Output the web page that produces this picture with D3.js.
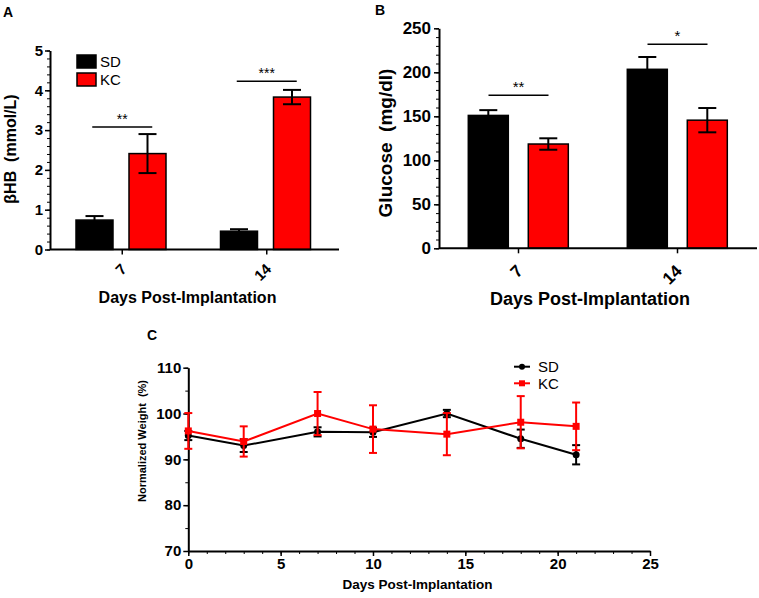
<!DOCTYPE html>
<html>
<head>
<meta charset="utf-8">
<script src="https://cdn.jsdelivr.net/npm/d3@7"></script>
<style>
  html, body { margin: 0; padding: 0; background: #fff; }
  svg { display: block; font-family: "Liberation Sans", Arial, sans-serif; }
</style>
</head>
<body>
<svg id="chart" width="759" height="598"></svg>
<script>
// ---------- DATA ----------
const groups = ["7", "14"];
const seriesNames = ["SD", "KC"];
const seriesColors = ["#000000", "#ff0000"];

// Panel A: βHB (mmol/L)
const bhbSD = [0.74, 0.46];
const bhbSDErr = [0.10, 0.05];
const bhbKC = [2.41, 3.83];
const bhbKCErr = [0.49, 0.18];
const bhbSig = ["**", "***"];
const bhbSigLevel = [3.08, 4.23];
const bhbTicks = [0, 1, 2, 3, 4, 5];

// Panel B: Glucose (mg/dl)
const gluSD = [151, 203.4];
const gluSDErr = [6, 14];
const gluKC = [118.5, 145.6];
const gluKCErr = [6.5, 13.8];
const gluSig = ["**", "*"];
const gluSigLevel = [174, 232];
const gluTicks = [0, 50, 100, 150, 200, 250];

// Panel C: Normalized weight (%)
const days = [0, 3, 7, 10, 14, 18, 21];
const weightSD = [95.2, 93.0, 96.0, 95.9, 100.0, 94.5, 91.0];
const weightSDErr = [1.0, 1.4, 1.0, 1.0, 0.8, 2.0, 2.1];
const weightKC = [96.2, 93.9, 100.0, 96.6, 95.5, 98.1, 97.2];
const weightKCErr = [3.9, 3.3, 4.7, 5.2, 4.6, 5.7, 5.2];
const dayTicks = [0, 5, 10, 15, 20, 25];
const weightTicks = [70, 80, 90, 100, 110];

const svg = d3.select("#chart");

function styleAxis(g, fontSize, sw) {
  g.selectAll("path.domain").attr("stroke", "#000").attr("stroke-width", sw);
  g.selectAll(".tick line").attr("stroke", "#000").attr("stroke-width", 1.5);
  g.selectAll(".tick text").attr("fill", "#000").attr("font-size", fontSize)
    .attr("font-weight", "bold").attr("font-family", "Liberation Sans, Arial, sans-serif");
}

// ---------- BAR PANEL ----------
function barPanel(opt) {
  const g = svg.append("g");
  const y = d3.scaleLinear().domain(opt.yDomain).range([opt.y0, opt.y1]);
  const x = d3.scaleBand().domain(groups).range([opt.xL, opt.xR]).paddingInner(0).paddingOuter(0);
  const xi = d3.scaleBand().domain(seriesNames).range(opt.innerRange).paddingInner(opt.innerPad);
  const means = [opt.sd, opt.kc];
  const errs = [opt.sdErr, opt.kcErr];

  // minor ticks
  g.append("g").attr("transform", `translate(${opt.xL},0)`)
    .call(d3.axisLeft(y).tickValues(d3.range(opt.yDomain[0], opt.yDomain[1] + 1e-9, opt.minorStep)).tickSize(3).tickFormat("").tickSizeOuter(0))
    .call(a => { a.select("path.domain").remove(); a.selectAll(".tick line").attr("stroke", "#000").attr("stroke-width", 1); });
  // major y axis
  const ya = g.append("g").attr("transform", `translate(${opt.xL},0)`)
    .call(d3.axisLeft(y).tickValues(opt.ticks).tickSize(5).tickPadding(opt.tickPad).tickSizeOuter(0).tickFormat(d3.format("d")));
  styleAxis(ya, opt.tickFont, 2);

  // bars
  seriesNames.forEach((s, si) => {
    g.append("g").selectAll("rect").data(groups).join("rect")
      .attr("x", d => x(d) + xi(s))
      .attr("width", xi.bandwidth())
      .attr("y", (d, i) => y(means[si][i]))
      .attr("height", (d, i) => y(0) - y(means[si][i]))
      .attr("fill", seriesColors[si])
      .attr("stroke", "#000").attr("stroke-width", 1.5);
  });
  // error bars (black)
  seriesNames.forEach((s, si) => {
    groups.forEach((gname, i) => {
      const cx = x(gname) + xi(s) + xi.bandwidth() / 2;
      const hi = y(means[si][i] + errs[si][i]);
      const lo = y(means[si][i] - errs[si][i]);
      const eg = g.append("g").attr("stroke", "#000").attr("stroke-width", 2);
      eg.append("line").attr("x1", cx).attr("x2", cx).attr("y1", hi).attr("y2", lo);
      eg.append("line").attr("x1", cx - 9).attr("x2", cx + 9).attr("y1", hi).attr("y2", hi);
      eg.append("line").attr("x1", cx - 9).attr("x2", cx + 9).attr("y1", lo).attr("y2", lo);
    });
  });

  // x axis
  const xa = g.append("g").attr("transform", `translate(0,${opt.y0})`)
    .call(d3.axisBottom(x).tickSize(5).tickSizeOuter(0).tickFormat(""));
  styleAxis(xa, opt.tickFont, 2);
  xa.select("path.domain").attr("d", `M${opt.xL},0H${opt.xR}`);
  xa.selectAll(".tick").append("text")
    .attr("text-anchor", "end")
    .attr("transform", `translate(5.5,${opt.xLabY - opt.y0}) rotate(-45)`)
    .attr("font-size", opt.tickFont).attr("font-weight", "bold").attr("fill", "#000")
    .text(d => d);

  // significance
  groups.forEach((gname, i) => {
    const cx = x(gname) + x.bandwidth() / 2;
    const ly = y(opt.sigLevel[i]);
    g.append("line").attr("x1", cx - 30).attr("x2", cx + 30).attr("y1", ly).attr("y2", ly)
      .attr("stroke", "#000").attr("stroke-width", 1.5);
    g.append("text").attr("x", cx).attr("y", ly - 3).attr("text-anchor", "middle")
      .attr("font-size", opt.starFont).attr("fill", "#000").text(opt.sig[i]);
  });

  // titles
  g.append("text").attr("x", (opt.xL + opt.xR) / 2 + opt.xTitleDx).attr("y", opt.xTitleY)
    .attr("text-anchor", "middle").attr("font-size", opt.titleFont).attr("font-weight", "bold")
    .text("Days Post-Implantation");
  g.append("text").attr("transform", `translate(${opt.yTitleX},${opt.yTitleCY}) rotate(-90)`)
    .attr("text-anchor", "middle").attr("font-size", opt.yTitleFont).attr("font-weight", "bold")
    .attr("xml:space", "preserve").style("white-space", "pre")
    .text(opt.yTitle);
  g.append("text").attr("x", opt.letterX).attr("y", opt.letterY)
    .attr("font-size", 14).attr("font-weight", "bold").attr("font-family", "Liberation Sans, Arial, sans-serif")
    .text(opt.letter);
  return { g, x, xi, y };
}

const A = barPanel({
  letter: "A", letterX: 3, letterY: 17,
  yDomain: [0, 5], y0: 249.5, y1: 50.5, xL: 50, xR: 339,
  innerRange: [26, 116], innerPad: 0.302,
  sd: bhbSD, sdErr: bhbSDErr, kc: bhbKC, kcErr: bhbKCErr,
  ticks: bhbTicks, minorStep: 0.2, tickFont: 15, tickPad: 2,
  sig: bhbSig, sigLevel: bhbSigLevel, starFont: 14,
  xLabY: 270, titleFont: 16, xTitleY: 303, xTitleDx: -7,
  yTitle: "\u03B2HB  (mmol/L)", yTitleX: 16, yTitleCY: 149, yTitleFont: 16
});

// Legend A
seriesNames.forEach((s, i) => {
  const lg = A.g.append("g").attr("transform", `translate(77,${55 + i * 18})`);
  lg.append("rect").attr("width", 19).attr("height", 13).attr("fill", seriesColors[i])
    .attr("stroke", "#000").attr("stroke-width", 1.5);
  lg.append("text").attr("x", 23).attr("y", 12).attr("font-size", 15).attr("fill", "#000").text(s);
});

const B = barPanel({
  letter: "B", letterX: 375, letterY: 15,
  yDomain: [0, 250], y0: 248.3, y1: 28.3, xL: 439, xR: 757,
  innerRange: [29.3, 129.3], innerPad: 0.333,
  sd: gluSD, sdErr: gluSDErr, kc: gluKC, kcErr: gluKCErr,
  ticks: gluTicks, minorStep: 10, tickFont: 17, tickPad: 3,
  sig: gluSig, sigLevel: gluSigLevel, starFont: 15,
  xLabY: 272, titleFont: 18, xTitleY: 305, xTitleDx: -8,
  yTitle: "Glucose  (mg/dl)", yTitleX: 392, yTitleCY: 143, yTitleFont: 19
});

// ---------- PANEL C ----------
const C = svg.append("g");
const xC = d3.scaleLinear().domain([0, 25]).range([188.3, 650]);
const yC = d3.scaleLinear().domain([70, 110]).range([551, 367.7]);

// minor ticks
C.append("g").attr("transform", "translate(0,551)")
  .call(d3.axisBottom(xC).tickValues(d3.range(0, 26, 1)).tickSize(3).tickFormat("").tickSizeOuter(0))
  .call(a => { a.select("path.domain").remove(); a.selectAll(".tick line").attr("stroke", "#000").attr("stroke-width", 1); });
C.append("g").attr("transform", "translate(188.3,0)")
  .call(d3.axisLeft(yC).tickValues(d3.range(70, 111, 5)).tickSize(3).tickFormat("").tickSizeOuter(0))
  .call(a => { a.select("path.domain").remove(); a.selectAll(".tick line").attr("stroke", "#000").attr("stroke-width", 1); });

const xaC = C.append("g").attr("transform", "translate(0,551)")
  .call(d3.axisBottom(xC).tickValues(dayTicks).tickSize(5).tickPadding(2).tickSizeOuter(0));
styleAxis(xaC, 15, 2);
const yaC = C.append("g").attr("transform", "translate(188.3,0)")
  .call(d3.axisLeft(yC).tickValues(weightTicks).tickSize(5).tickPadding(2).tickSizeOuter(0));
styleAxis(yaC, 15, 2);

const weightSeries = [
  { name: "SD", vals: weightSD, errs: weightSDErr, color: "#000000", marker: "circle" },
  { name: "KC", vals: weightKC, errs: weightKCErr, color: "#ff0000", marker: "square" }
];
const lineGen = d3.line().x(d => xC(d[0])).y(d => yC(d[1]));

weightSeries.forEach(s => {
  const sg = C.append("g");
  const pts = days.map((d, i) => [d, s.vals[i], s.errs[i]]);
  // error bars
  pts.forEach(p => {
    const cx = xC(p[0]), hi = yC(p[1] + p[2]), lo = yC(p[1] - p[2]);
    const eg = sg.append("g").attr("stroke", s.color).attr("stroke-width", 2);
    eg.append("line").attr("x1", cx).attr("x2", cx).attr("y1", hi).attr("y2", lo);
    eg.append("line").attr("x1", cx - 4).attr("x2", cx + 4).attr("y1", hi).attr("y2", hi);
    eg.append("line").attr("x1", cx - 4).attr("x2", cx + 4).attr("y1", lo).attr("y2", lo);
  });
  sg.append("path").datum(pts).attr("d", lineGen).attr("fill", "none")
    .attr("stroke", s.color).attr("stroke-width", 2);
  if (s.marker === "circle") {
    sg.selectAll("circle").data(pts).join("circle")
      .attr("cx", p => xC(p[0])).attr("cy", p => yC(p[1])).attr("r", 3.5).attr("fill", s.color);
  } else {
    sg.selectAll("rect").data(pts).join("rect")
      .attr("x", p => xC(p[0]) - 3.5).attr("y", p => yC(p[1]) - 3.5)
      .attr("width", 7).attr("height", 7).attr("fill", s.color);
  }
});

// legend C
weightSeries.forEach((s, i) => {
  const ly = 366.7 + i * 16.6;
  const lg = C.append("g");
  lg.append("line").attr("x1", 514).attr("x2", 530).attr("y1", ly).attr("y2", ly)
    .attr("stroke", s.color).attr("stroke-width", 2);
  if (s.marker === "circle") lg.append("circle").attr("cx", 522).attr("cy", ly).attr("r", 3).attr("fill", s.color);
  else lg.append("rect").attr("x", 519).attr("y", ly - 3).attr("width", 6).attr("height", 6).attr("fill", s.color);
  lg.append("text").attr("x", 538).attr("y", ly + 5.5).attr("font-size", 15).attr("fill", "#000").text(s.name);
});

C.append("text").attr("x", 417.5).attr("y", 589).attr("text-anchor", "middle")
  .attr("font-size", 13.5).attr("font-weight", "bold").text("Days Post-Implantation");
C.append("text").attr("transform", "translate(146,441) rotate(-90)")
  .attr("text-anchor", "middle").attr("font-size", 11).attr("font-weight", "bold")
  .style("white-space", "pre").text("Normalized Weight  (%)");
C.append("text").attr("x", 147).attr("y", 340).attr("font-size", 14).attr("font-weight", "bold").text("C");
</script>
</body>
</html>
